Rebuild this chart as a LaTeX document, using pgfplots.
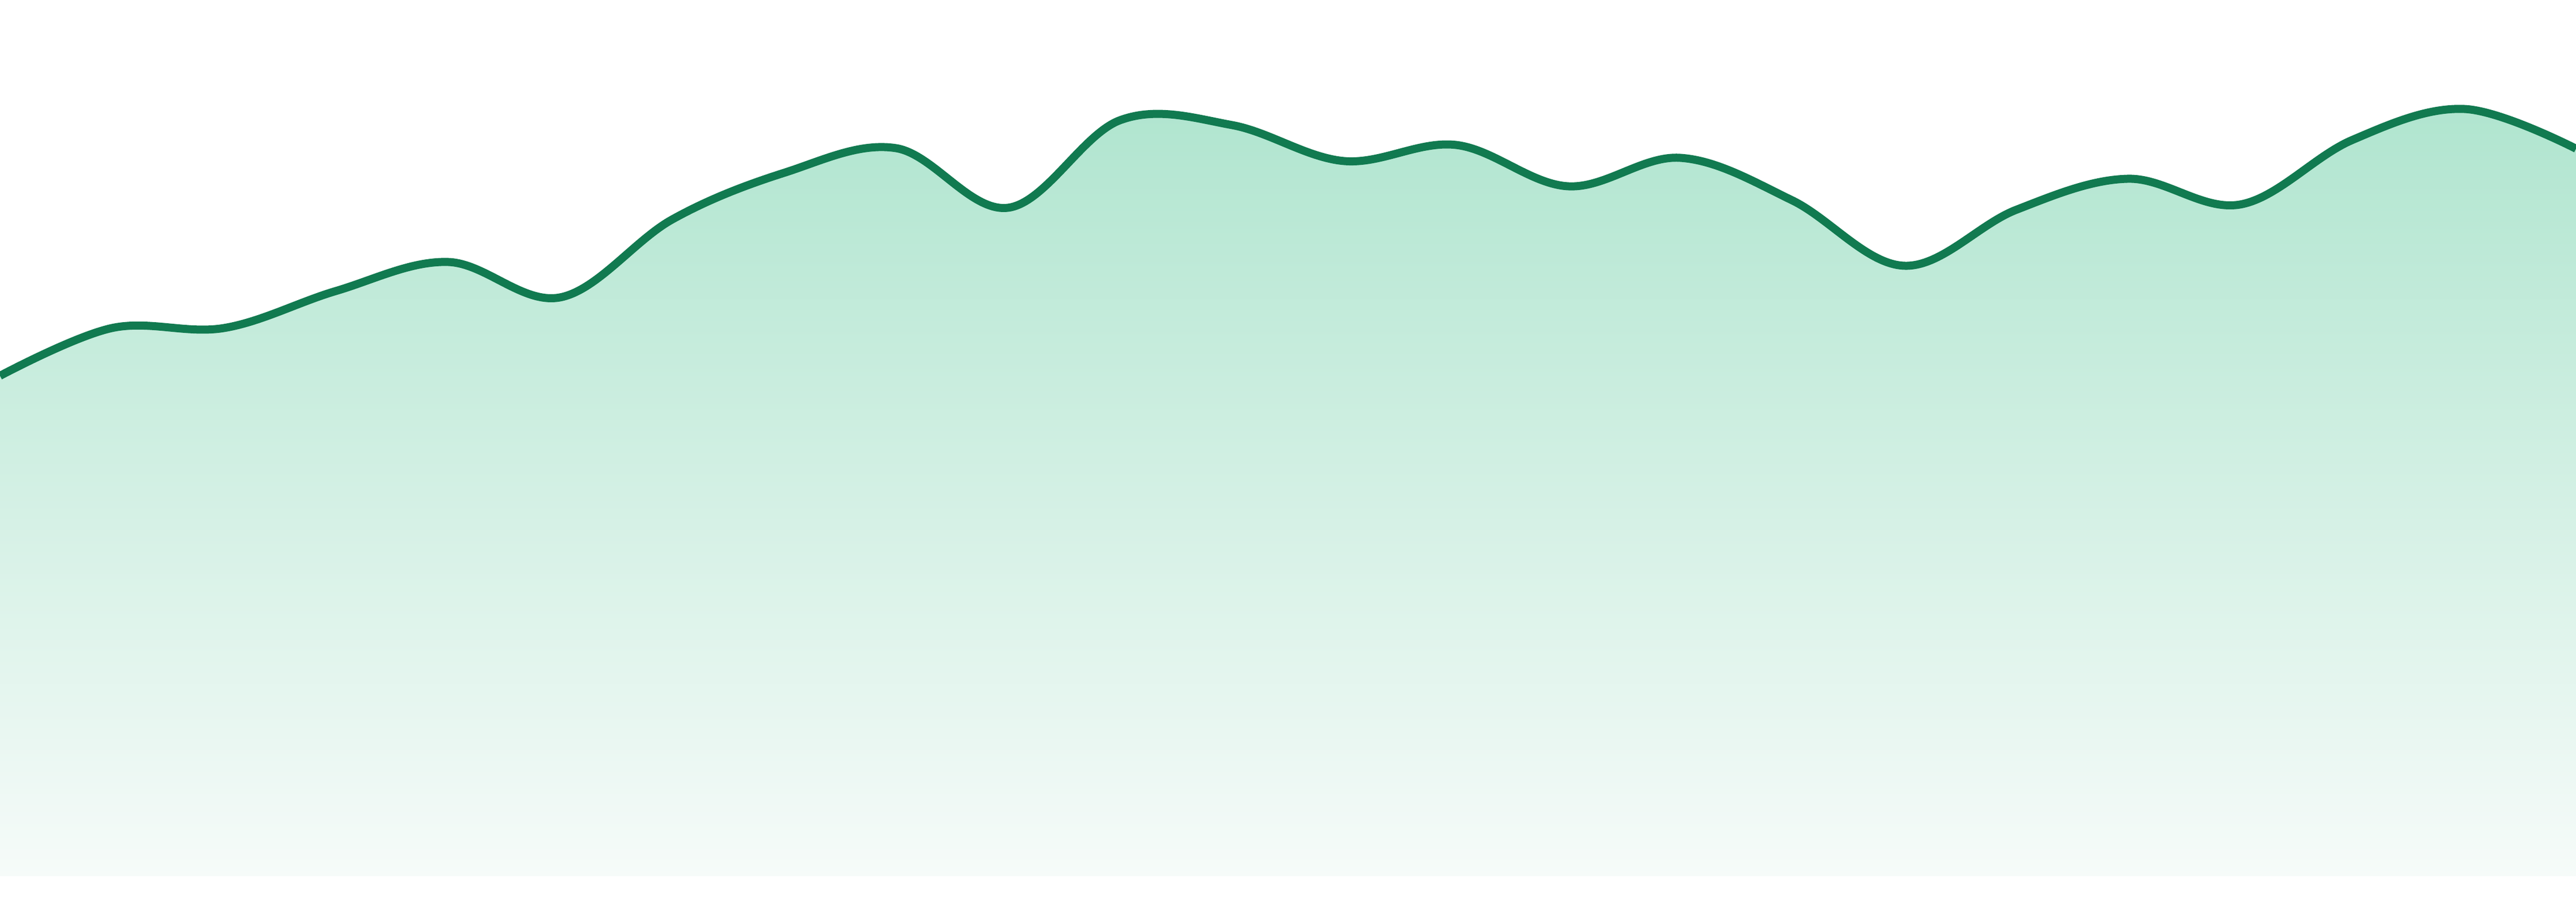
\documentclass[border=0pt]{standalone}
\usepackage{pgfplots}
\pgfplotsset{compat=1.18}
\definecolor{lineGreen}{RGB}{17,122,80}
\definecolor{fillTop}{RGB}{176,229,207}
\definecolor{fillBot}{RGB}{246,251,249}
\pgfplotstableread{
x y
0 932
1 1021
2 1021
3 1090
4 1144
5 1078
6 1223
7 1310
8 1356
9 1245
10 1408
11 1399
12 1332
13 1362
14 1285
15 1338
16 1259
17 1137
18 1241
19 1299
20 1251
21 1371
22 1429
23 1355
}\series
\begin{document}
\begin{tikzpicture}
\useasboundingbox (0,0) rectangle (480pt,168pt);
\begin{axis}[
    width=480pt, height=168pt,
    scale only axis,
    hide axis,
    xmin=0, xmax=23,
    ymin=-48, ymax=1632,
    enlargelimits=false,
    clip=true,
]
% area under the curve, fading out towards the bottom
\addplot[draw=none, smooth, tension=0.6, top color=fillTop, bottom color=fillBot]
    table[x=x, y=y] {\series} -- (axis cs:23,0) -- (axis cs:0,0) -- cycle;
\addplot[smooth, tension=0.6, line width=1.5pt, draw=lineGreen, no marks]
    table[x=x, y=y] {\series};
\end{axis}
\end{tikzpicture}
\end{document}
